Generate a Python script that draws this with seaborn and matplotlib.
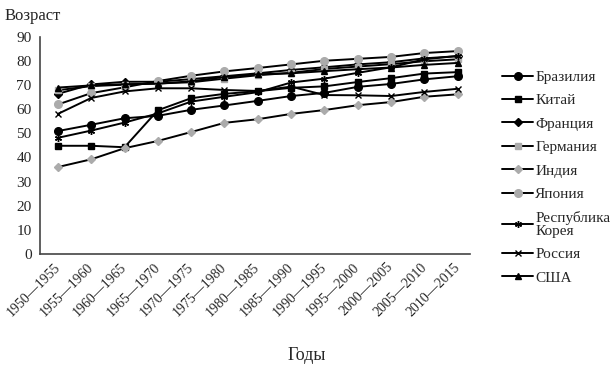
import numpy as np
import pandas as pd
import matplotlib
matplotlib.use("Agg")
import matplotlib.pyplot as plt
import seaborn as sns

periods = ["1950—1955", "1955—1960", "1960—1965", "1965—1970", "1970—1975",
           "1975—1980", "1980—1985", "1985—1990", "1990—1995", "1995—2000",
           "2000—2005", "2005—2010", "2010—2015"]

brazil = [50.9, 53.5, 56.2, 57.2, 59.7, 61.5, 63.4, 65.4, 66.7, 69.2, 70.4, 72.3, 73.6]
china = [44.8, 44.8, 44.2, 59.5, 64.5, 66.3, 67.4, 68.8, 69.4, 71.2, 72.8, 74.7, 75.3]
france = [66.3, 70.2, 71.3, 71.3, 72.4, 73.6, 74.8, 76.2, 77.3, 78.5, 79.4, 81.0, 81.9]
germany = [67.8, 69.5, 70.1, 70.6, 71.1, 72.6, 74.0, 75.0, 76.6, 77.6, 78.6, 79.8, 80.6]
india = [36.0, 39.2, 43.8, 46.8, 50.5, 54.3, 55.8, 58.0, 59.6, 61.6, 62.9, 65.1, 66.1]
japan = [61.9, 66.6, 69.0, 71.6, 73.8, 75.6, 77.0, 78.5, 80.0, 80.8, 81.6, 83.2, 84.0]
korea = [48.1, 51.1, 54.4, 58.2, 63.1, 65.1, 67.0, 71.0, 72.6, 75.0, 77.3, 80.6, 82.0]
russia = [58.0, 64.6, 67.3, 68.6, 68.6, 67.9, 67.5, 69.3, 65.8, 65.7, 65.4, 67.1, 68.4]
usa = [68.9, 69.8, 70.3, 70.5, 71.5, 73.3, 74.4, 74.8, 75.7, 76.5, 77.2, 78.3, 79.1]

countries = ["Бразилия", "Китай", "Франция", "Германия", "Индия", "Япония",
             "Республика\nКорея", "Россия", "США"]
series = [brazil, china, france, germany, india, japan, korea, russia, usa]

black = "black"
gray = "#ababab"
styles = {
    "Бразилия": ("o", black, 5.5),
    "Китай": ("s", black, 5),
    "Франция": ("D", black, 4.2),
    "Германия": ("s", gray, 4.2),
    "Индия": ("D", gray, 4.2),
    "Япония": ("o", gray, 5.5),
    "Республика\nКорея": ((6, 2, 0), black, 5),
    "Россия": ("x", black, 4),
    "США": ("^", black, 5),
}

rows = []
for name, vals in zip(countries, series):
    for i, v in enumerate(vals):
        rows.append({"country": name, "idx": i, "age": v})
df = pd.DataFrame(rows)

sns.set_style("white")
plt.rcParams["font.family"] = ["Liberation Serif", "DejaVu Serif"]

fig = plt.figure(figsize=(6.14, 3.66), dpi=100)
ax = fig.add_axes([0.065, 0.306, 0.7, 0.594])

for name in countries:
    marker, col, ms = styles[name]
    sub = df[df["country"] == name]
    sns.lineplot(data=sub, x="idx", y="age", ax=ax, color="black", linewidth=1.4,
                 marker=marker, markersize=ms, markerfacecolor=col,
                 markeredgecolor=col, markeredgewidth=1.0, label=name)

ax.set_xlim(-0.54, 12.36)
ax.set_ylim(0, 90)
ax.set_yticks(range(0, 91, 10))
ax.set_xticks(range(len(periods)))
ax.set_xticklabels(periods, rotation=45, ha="right", va="center",
                   rotation_mode="anchor", fontsize=10)
ax.tick_params(axis="x", which="major", length=0, pad=8)
ax.set_xticks(np.linspace(0.06, 11.85, 15), minor=True)
ax.tick_params(axis="x", which="minor", length=4, width=1, color="#444444", direction="out")
ax.tick_params(axis="y", length=4, width=1, color="#444444", direction="out",
               labelsize=11, pad=2)
ax.set_xlabel("")
ax.set_ylabel("")
for s in ["top", "right"]:
    ax.spines[s].set_visible(False)
for s in ["left", "bottom"]:
    ax.spines[s].set_color("#444444")
    ax.spines[s].set_linewidth(1.2)

fig.text(0.008, 0.955, "Возраст", fontsize=12, ha="left", va="center")
fig.text(0.5, 0.03, "Годы", fontsize=13, ha="center", va="center")

handles, labels = ax.get_legend_handles_labels()
ax.legend_.remove()
leg = fig.legend(handles, labels, loc="upper left", bbox_to_anchor=(0.808, 0.825),
                 frameon=False, fontsize=11, handlelength=2.0, handletextpad=0.15,
                 labelspacing=0.64, borderaxespad=0)
for t in leg.get_texts():
    t.set_linespacing(0.97)

fig.savefig("out.png", dpi=100)
